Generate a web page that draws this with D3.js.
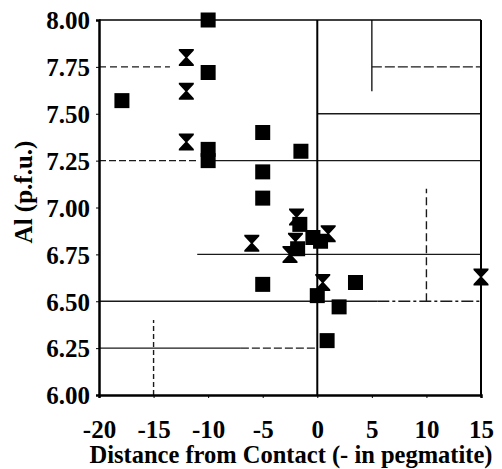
<!DOCTYPE html>
<html>
<head>
<meta charset="utf-8">
<script src="https://cdn.jsdelivr.net/npm/d3@7"></script>
<style>
  body { margin: 0; background: #fff; }
</style>
</head>
<body>
<svg id="chart" width="502" height="469"></svg>
<script>
// square markers
const squareX = [-10, -10, -17.9, -10, -10, -5, -1.5, -5, -5, -5, 3.5, 2, 0.9, 0, -1.6, -0.4, 0.3, -1.8]
const squareY = [8.00, 7.72, 7.57, 7.31, 7.25, 7.40, 7.30, 7.19, 7.05, 6.59, 6.60, 6.47, 6.29, 6.53, 6.91, 6.84, 6.82, 6.78]
// hourglass markers
const hourX = [-12, -12, -12, -6, 15, -1.9, 1.0, -2.5, -2.0, 0.5]
const hourY = [7.80, 7.62, 7.35, 6.81, 6.63, 6.95, 6.86, 6.75, 6.82, 6.60]

const xTicks = [-20, -15, -10, -5, 0, 5, 10, 15]
const yTicks = [6.00, 6.25, 6.50, 6.75, 7.00, 7.25, 7.50, 7.75, 8.00]

// pieces of grid line visible in the scan (data units)
const hGrid = [
  { v: 7.75, a: -20, b: -13.5, dash: '7,4' },
  { v: 7.75, a: 5, b: 15, dash: '10,3' },
  { v: 7.50, a: 0, b: 15, dash: null },
  { v: 7.25, a: -20, b: -11, dash: '7,3' },
  { v: 7.25, a: -10, b: 15, dash: null },
  { v: 6.75, a: -11, b: 15, dash: null },
  { v: 6.50, a: -20, b: 5.5, dash: null },
  { v: 6.50, a: 5.5, b: 15, dash: '12,3,3,3' },
  { v: 6.25, a: -20, b: -7, dash: null },
  { v: 6.25, a: -7, b: 0, dash: '8,3' }
]
const vGrid = [
  { v: 5, a: 7.62, b: 8.0, dash: null },
  { v: 10, a: 6.5, b: 7.1, dash: '8,4' },
  { v: -15, a: 6.0, b: 6.4, dash: '5,3' }
]

const font = 'Liberation Serif'

const svg = d3.select('#chart')
const margin = { left: 99, right: 21, top: 20, bottom: 74 }
const width = +svg.attr('width')
const height = +svg.attr('height')
const innerWidth = width - margin.left - margin.right
const innerHeight = height - margin.top - margin.bottom

const x = d3.scaleLinear().domain([-20, 15]).range([0, innerWidth])
const y = d3.scaleLinear().domain([6, 8]).range([innerHeight, 0])

const g = svg.append('g').attr('transform', `translate(${margin.left},${margin.top})`)

g.selectAll('.hgrid').data(hGrid).enter().append('line')
  .attr('x1', d => x(d.a)).attr('x2', d => x(d.b))
  .attr('y1', d => y(d.v)).attr('y2', d => y(d.v))
  .attr('stroke', '#1a1a1a').attr('stroke-width', 1.4)
  .attr('stroke-dasharray', d => d.dash)

g.selectAll('.vgrid').data(vGrid).enter().append('line')
  .attr('x1', d => x(d.v)).attr('x2', d => x(d.v))
  .attr('y1', d => y(d.a)).attr('y2', d => y(d.b))
  .attr('stroke', '#1a1a1a').attr('stroke-width', 1.4)
  .attr('stroke-dasharray', d => d.dash)

// zero line
g.append('line')
  .attr('x1', x(0)).attr('x2', x(0))
  .attr('y1', 0).attr('y2', innerHeight)
  .attr('stroke', '#000').attr('stroke-width', 2)

// frame
g.append('line').attr('x1', 0).attr('x2', innerWidth).attr('y1', 0).attr('y2', 0)
  .attr('stroke', '#000').attr('stroke-width', 1.5)
g.append('line').attr('x1', innerWidth).attr('x2', innerWidth).attr('y1', 0).attr('y2', innerHeight)
  .attr('stroke', '#000').attr('stroke-width', 2)

const xAxis = g.append('g')
  .attr('transform', `translate(0,${innerHeight})`)
  .call(d3.axisBottom(x).tickValues(xTicks).tickSize(3).tickPadding(22).tickFormat(d => String(d)))
const yAxis = g.append('g')
  .call(d3.axisLeft(y).tickValues(yTicks).tickSize(3).tickPadding(6).tickFormat(d => d.toFixed(2)))

for (const ax of [xAxis, yAxis]) {
  ax.select('.domain').attr('stroke', '#000').attr('stroke-width', 2.5)
  ax.selectAll('.tick line').attr('stroke', '#000')
  ax.selectAll('.tick text')
    .style('font-family', font).style('font-weight', 'bold').style('font-size', '25px')
    .attr('fill', '#000')
}
xAxis.selectAll('.tick text').attr('dy', '0.71em')
yAxis.selectAll('.tick text').attr('dy', '0.35em')

// markers
const squares = squareX.map((v, i) => ({ x: v, y: squareY[i] }))
const hours = hourX.map((v, i) => ({ x: v, y: hourY[i] }))

g.selectAll('.sq').data(squares).enter().append('rect')
  .attr('x', d => x(d.x) - 7.5)
  .attr('y', d => y(d.y) - 7.5)
  .attr('width', 15).attr('height', 15)
  .attr('fill', '#000')

const hourPath = 'M-7.5,-8.5H7.5V-7L1,0L7.5,7V8.5H-7.5V7L-1,0L-7.5,-7Z'
g.selectAll('.hg').data(hours).enter().append('path')
  .attr('d', hourPath)
  .attr('transform', d => `translate(${x(d.x)},${y(d.y)})`)
  .attr('fill', '#000')

// axis titles
svg.append('text')
  .attr('x', 291).attr('y', 463)
  .attr('text-anchor', 'middle')
  .style('font-family', font).style('font-weight', 'bold').style('font-size', '24.5px')
  .text('Distance from Contact (- in pegmatite)')

svg.append('text')
  .attr('transform', 'translate(32,192) rotate(-90)')
  .attr('text-anchor', 'middle')
  .style('font-family', font).style('font-weight', 'bold').style('font-size', '25px')
  .text('Al (p.f.u.)')
</script>
</body>
</html>
